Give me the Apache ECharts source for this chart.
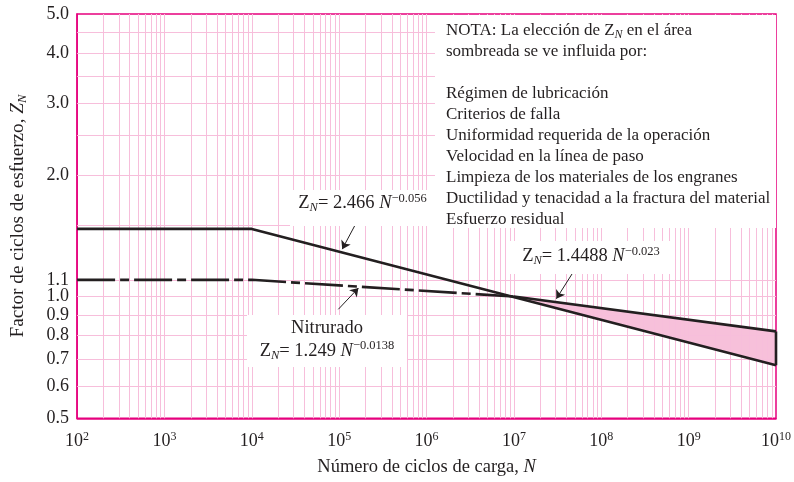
<!DOCTYPE html>
<html>
<head>
<meta charset="utf-8">
<script src="https://cdn.jsdelivr.net/npm/echarts@6/dist/echarts.min.js"></script>
<style>
  html, body { margin: 0; padding: 0; background: #fff; }
  #chart { width: 794px; height: 482px; }
</style>
</head>
<body>
<div id="chart"></div>
<script>
// curves (N, Z_N), straight lines on log-log paper
var upperN = [1e2, 1e4, 1e10];
var upperZ = [1.47, 1.47, 0.676];
var bandTopN = [1e7, 1e10];
var bandTopZ = [1.0, 0.82];
var nitrN = [1e2, 1e4, 1e7];
var nitrZ = [1.1, 1.1, 1.0];

// paper grid and tick labels
var yGridValues = [0.6, 0.7, 0.8, 0.9, 1.0, 1.1, 1.5, 2.0, 2.5, 3.0, 3.5, 4.0, 4.5];
var yTickLabels = [0.5, 0.6, 0.7, 0.8, 0.9, 1.0, 1.1, 2.0, 3.0, 4.0, 5.0];
var xDecades = [2, 3, 4, 5, 6, 7, 8, 9];
var xMultipliers = [1, 2, 3, 4, 5, 6, 7, 8, 9];

var noteLines = [
    '{t|NOTA: La elección de Z}{sub|N}{t| en el área}',
    '{t|sombreada se ve influida por:}',
    '{t| }',
    '{t|Régimen de lubricación}',
    '{t|Criterios de falla}',
    '{t|Uniformidad requerida de la operación}',
    '{t|Velocidad en la línea de paso}',
    '{t|Limpieza de los materiales de los engranes}',
    '{t|Ductilidad y tenacidad a la fractura del material}',
    '{t|Esfuerzo residual}'
];

var INK = '#231f20';
var GRID = '#f7bedb';
var FRAME = '#e6007e';
var FONT = 'Liberation Serif';

function pairs(xs, ys) {
    return xs.map(function (x, i) { return [x, ys[i]]; });
}

var xGrid = [];
xDecades.forEach(function (e) {
    xMultipliers.forEach(function (m) {
        if (e === 2 && m === 1) return;
        xGrid.push({ xAxis: m * Math.pow(10, e) });
    });
});

function richSet(size, small) {
    return {
        t: { fontFamily: FONT, fontSize: size, color: INK, lineHeight: size + 4 },
        i: { fontFamily: FONT, fontSize: size, color: INK, fontStyle: 'italic', lineHeight: size + 4 },
        sub: { fontFamily: FONT, fontSize: small, color: INK, fontStyle: 'italic', verticalAlign: 'bottom', padding: [8, 0, 0, 0] },
        sup: { fontFamily: FONT, fontSize: small, color: INK, verticalAlign: 'top', padding: [0, 0, 8, 0] }
    };
}

function boxText(x, y, w, h, text, align, size, small, dy) {
    return [{
        type: 'rect', z: 50,
        shape: { x: x, y: y, width: w, height: h },
        style: { fill: '#fff' }
    }, {
        type: 'text', z: 51,
        x: align === 'center' ? x + w / 2 : x + 11,
        y: y + (dy || 2),
        style: {
            text: text, rich: richSet(size, small), align: align || 'left',
            fontFamily: FONT, fontSize: size, fill: INK
        }
    }];
}

var chart = echarts.init(document.getElementById('chart'));

var option = {
    animation: false,
    grid: {
        left: 77, right: 17, top: 14, bottom: 60,
        show: true, borderColor: FRAME, borderWidth: 1.5
    },
    xAxis: {
        type: 'log', logBase: 10, min: 1e2, max: 1e10, splitNumber: 8,
        axisLine: { lineStyle: { color: FRAME, width: 1.5 } },
        axisTick: { show: false },
        splitLine: { show: false },
        axisLabel: {
            margin: 13,
            formatter: function (v) {
                return '{b|10}{s|' + Math.round(Math.log10(v)) + '}';
            },
            rich: {
                b: { fontFamily: FONT, fontSize: 18, color: INK },
                s: { fontFamily: FONT, fontSize: 12, color: INK, verticalAlign: 'top', padding: [0, 0, 8, 0] }
            }
        },
        name: '{t|Número de ciclos de carga, }{i|N}',
        nameLocation: 'middle',
        nameGap: 38,
        nameTextStyle: { rich: richSet(18.5, 12) }
    },
    yAxis: {
        type: 'log', logBase: 10, min: 0.5, max: 5,
        axisLine: { lineStyle: { color: FRAME, width: 1.5 } },
        axisTick: { show: false },
        axisLabel: { show: false },
        splitLine: { show: false },
        name: '{t|Factor de ciclos de esfuerzo, }{i|Z}{sub|N}',
        nameLocation: 'middle',
        nameGap: 48,
        nameRotate: 90,
        nameTextStyle: { rich: richSet(19.2, 12.5) }
    },
    graphic: {
        elements: []
            .concat(boxText(435, 15, 341, 213, noteLines.join('\n'), 'left', 17, 12, 5))
            .concat(boxText(290, 190, 145, 36, '{t|Z}{sub|N}{t|= 2.466 }{i|N}{sup|−0.056}', 'center', 18.5, 12.5))
            .concat(boxText(507, 241, 168, 33, '{t|Z}{sub|N}{t|= 1.4488 }{i|N}{sup|−0.023}', 'center', 18.5, 12.5, 4))
            .concat(boxText(247, 315, 160, 52, '{t|Nitrurado}\n{t|Z}{sub|N}{t|= 1.249 }{i|N}{sup|−0.0138}', 'center', 18.5, 12.5))
    },
    series: [{
        name: 'paper',
        type: 'line',
        z: 1,
        silent: true,
        data: [],
        markLine: {
            silent: true,
            symbol: 'none',
            animation: false,
            label: { show: false },
            lineStyle: { color: GRID, width: 1, type: 'solid' },
            data: xGrid.concat(yGridValues.map(function (v) { return { yAxis: v }; }))
        }
    }, {
        name: 'ticks',
        type: 'line',
        z: 1,
        silent: true,
        data: [],
        markLine: {
            silent: true,
            symbol: 'none',
            animation: false,
            lineStyle: { color: 'rgba(255,255,255,0)', width: 0 },
            label: {
                show: true, position: 'start', distance: 8,
                fontFamily: FONT, fontSize: 18, color: INK,
                formatter: function (p) { return Number(p.value).toFixed(1); }
            },
            data: yTickLabels.map(function (v) { return { yAxis: v }; })
        }
    }, {
        name: 'band',
        type: 'custom',
        z: 3,
        silent: true,
        data: [[bandTopN[0], bandTopZ[0]]],
        renderItem: function (params, api) {
            var pts = pairs(bandTopN, bandTopZ);
            pairs(upperN, upperZ).reverse().forEach(function (p) {
                if (p[0] > bandTopN[0]) pts.push(p);
            });
            return {
                type: 'polygon',
                shape: { points: pts.map(function (p) { return api.coord(p); }) },
                style: { fill: '#f7c0da' }
            };
        }
    }, {
        name: 'upper',
        type: 'line',
        z: 5,
        symbol: 'none',
        lineStyle: { color: INK, width: 2.6 },
        data: pairs(upperN, upperZ),
        markLine: {
            silent: true,
            symbol: ['none', 'arrow'],
            symbolSize: 8,
            label: { show: false },
            lineStyle: { color: INK, width: 1, type: 'solid' },
            data: [
                [{ coord: [Math.pow(10, 5.18), 1.5] }, { coord: [Math.pow(10, 5.035), 1.31] }],
                [{ coord: [Math.pow(10, 4.99), 0.93] }, { coord: [Math.pow(10, 5.22), 1.05] }],
                [{ coord: [Math.pow(10, 7.675), 1.146] }, { coord: [Math.pow(10, 7.486), 0.988] }]
            ]
        }
    }, {
        name: 'bandTop',
        type: 'line',
        z: 5,
        symbol: 'none',
        lineStyle: { color: INK, width: 2.6 },
        data: pairs(bandTopN, bandTopZ)
    }, {
        name: 'bandEdge',
        type: 'line',
        z: 5,
        symbol: 'none',
        lineStyle: { color: INK, width: 2.6 },
        data: [[bandTopN[bandTopN.length - 1], bandTopZ[bandTopZ.length - 1]],
               [upperN[upperN.length - 1], upperZ[upperZ.length - 1]]]
    }, {
        name: 'Nitrurado',
        type: 'line',
        z: 5,
        symbol: 'none',
        lineStyle: { color: INK, width: 2.6, type: [38, 5, 9, 5] },
        data: pairs(nitrN, nitrZ)
    }]
};

chart.setOption(option);
</script>
</body>
</html>
